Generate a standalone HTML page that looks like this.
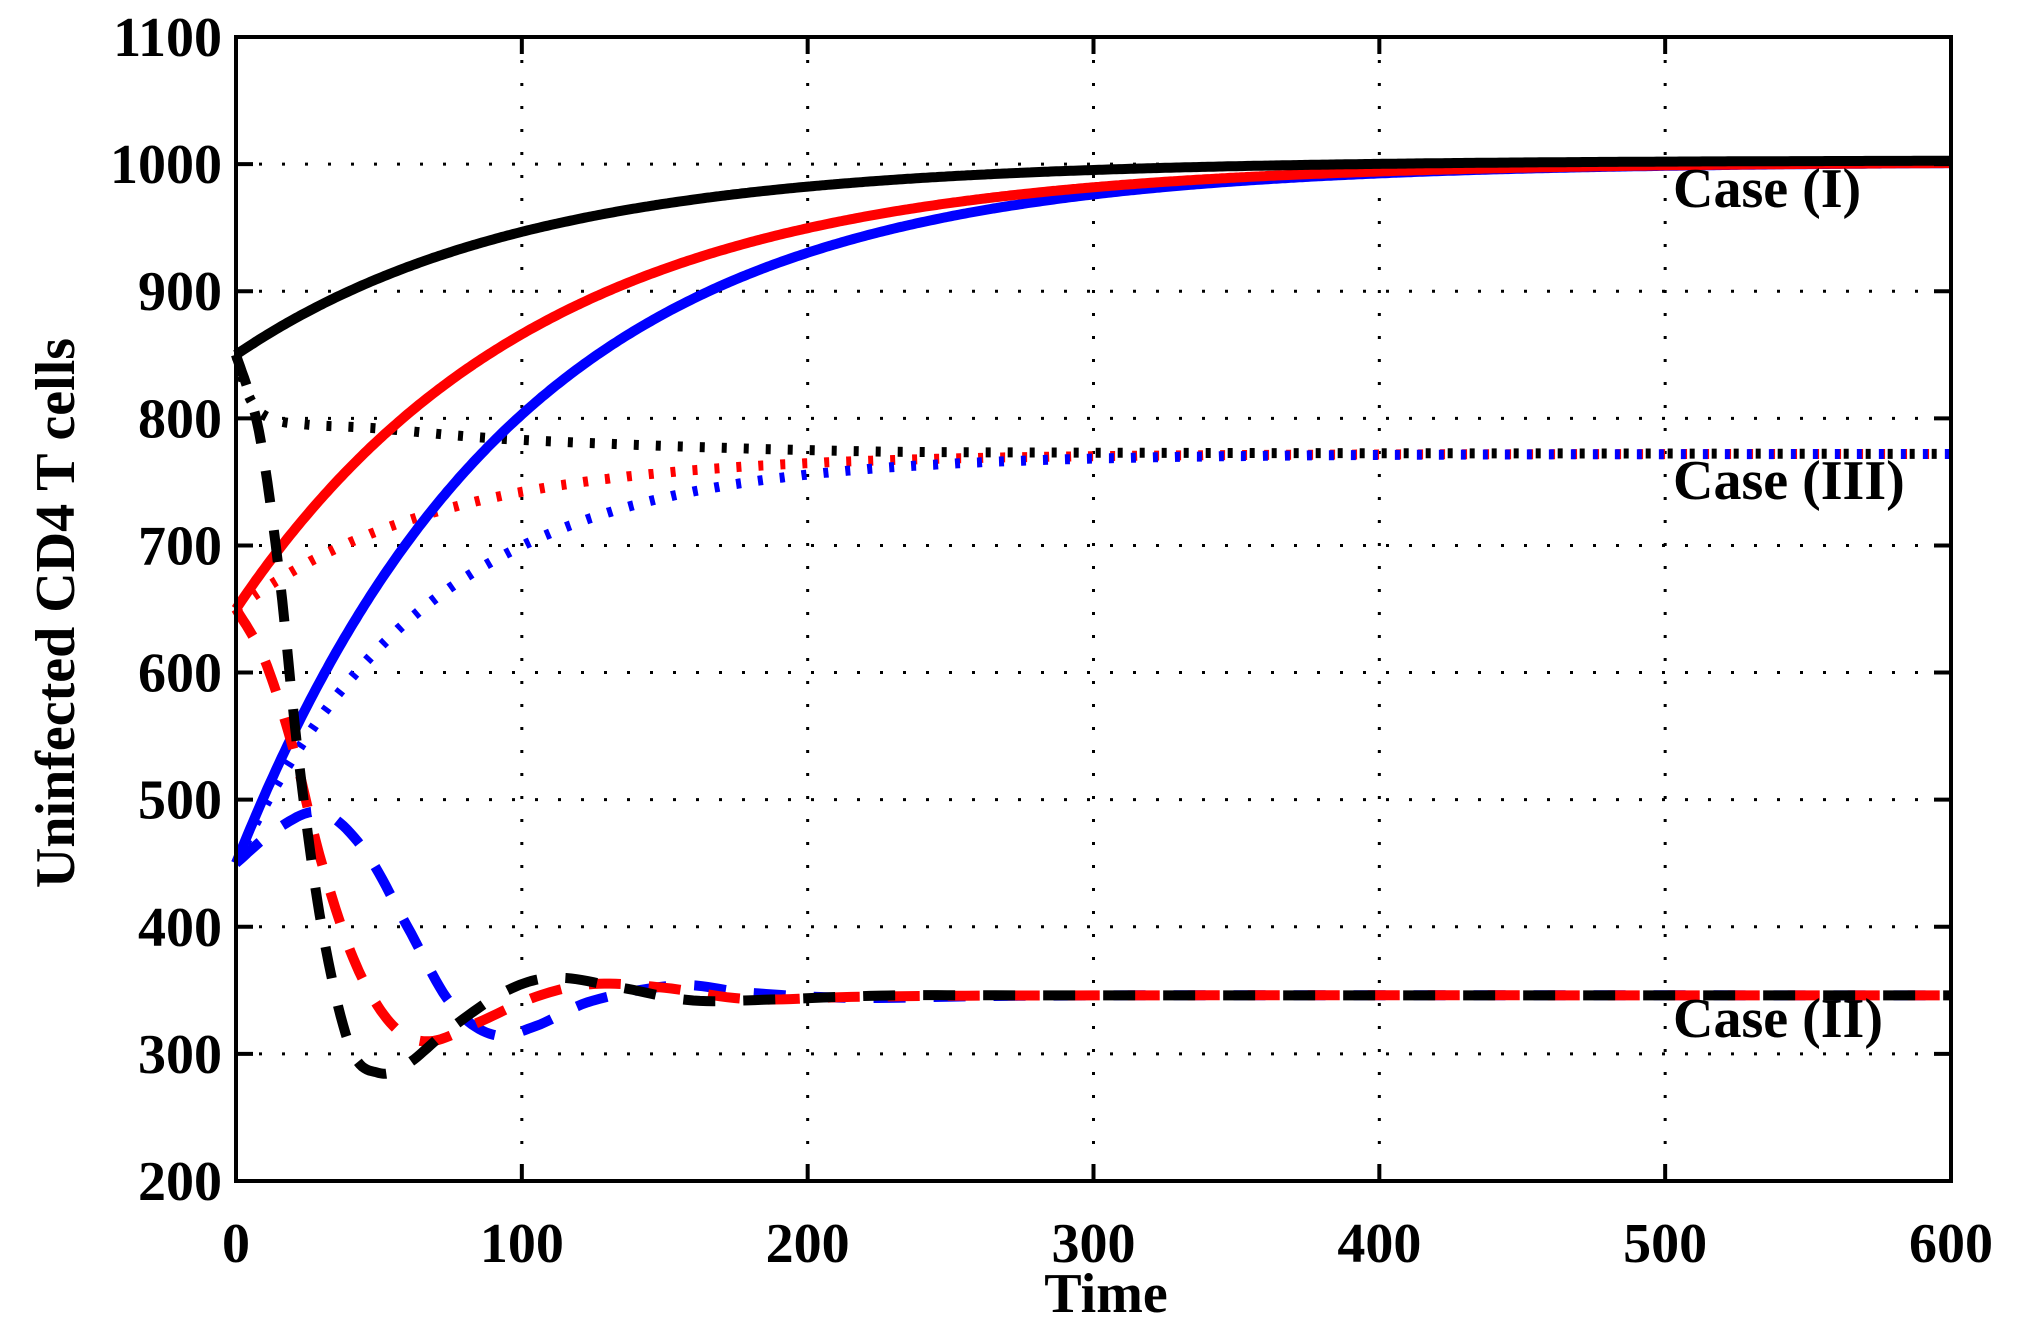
<!DOCTYPE html>
<html><head><meta charset="utf-8"><style>
body{margin:0;background:#fff}
svg text{font-family:"Liberation Serif",serif;font-weight:bold;fill:#000}
</style></head><body>
<svg id="s" width="2024" height="1331" xmlns="http://www.w3.org/2000/svg">
<rect width="2024" height="1331" fill="#fff"/>
<g id="grid" stroke="#000" stroke-width="3" stroke-dasharray="3 20"></g>
<g id="curves" fill="none" stroke-width="10"></g>
<rect x="236" y="37" width="1715" height="1144" fill="none" stroke="#000" stroke-width="4"/>
<g id="ticks" stroke="#000" stroke-width="4"></g>
<g id="lab" font-size="56"></g>
<text x="1673" y="207" font-size="56">Case (I)</text>
<text x="1673" y="499" font-size="56">Case (III)</text>
<text x="1673" y="1037" font-size="56">Case (II)</text>
<text x="1106" y="1312" font-size="56" text-anchor="middle">Time</text>
<text transform="translate(74,613) rotate(-90)" font-size="56" text-anchor="middle">Uninfected CD4 T cells</text>
</svg>
<script>
const X=t=>236+t*1715/600, Y=v=>1181-(v-200)*1144/900;
const ns="http://www.w3.org/2000/svg";
function el(p,tag,a,txt){const e=document.createElementNS(ns,tag);for(const k in a)e.setAttribute(k,a[k]);if(txt!==undefined)e.textContent=txt;document.getElementById(p).appendChild(e);}
for(let t=100;t<600;t+=100)el('grid','line',{x1:X(t),x2:X(t),y1:37,y2:1181});
for(let v=300;v<1100;v+=100)el('grid','line',{x1:236,x2:1951,y1:Y(v),y2:Y(v)});
for(let t=0;t<=600;t+=100){el('ticks','line',{x1:X(t),x2:X(t),y1:1181,y2:1164});el('ticks','line',{x1:X(t),x2:X(t),y1:37,y2:54});
 el('lab','text',{x:X(t),y:1262,'text-anchor':'middle'},t);}
for(let v=200;v<=1100;v+=100){el('ticks','line',{x1:236,x2:253,y1:Y(v),y2:Y(v)});el('ticks','line',{x1:1951,x2:1934,y1:Y(v),y2:Y(v)});
 el('lab','text',{x:222,y:Y(v)+19,'text-anchor':'end'},v);}
function pathF(f){let d='';for(let t=0;t<=600;t+=1){d+=(t?'L':'M')+X(t).toFixed(1)+','+Y(f(t)).toFixed(1);}return d;}
function cr(pts){
 let d='M'+X(pts[0][0])+','+Y(pts[0][1]);
 for(let i=0;i<pts.length-1;i++){const p0=pts[Math.max(0,i-1)],p1=pts[i],p2=pts[i+1],p3=pts[Math.min(pts.length-1,i+2)];
  for(let s=1;s<=12;s++){const u=s/12,u2=u*u,u3=u2*u;
   const f=k=>0.5*((2*p1[k])+(-p0[k]+p2[k])*u+(2*p0[k]-5*p1[k]+4*p2[k]-p3[k])*u2+(-p0[k]+3*p1[k]-3*p2[k]+p3[k])*u3);
   d+='L'+X(f(0)).toFixed(1)+','+Y(f(1)).toFixed(1);}}
 return d;}
el('curves','path',{d:cr([[0,850],[5,815],[12,800],[25,795],[50,792],[100,783],[200,775],[300,773],[600,772]]),stroke:'#000','stroke-dasharray':'5 17'});
el('curves','path',{d:pathF(t=>772-122*Math.exp(-t/71)),stroke:'#f00','stroke-dasharray':'5 17'});
el('curves','path',{d:pathF(t=>772-322*Math.exp(-t/67)),stroke:'#00f','stroke-dasharray':'5 17'});
el('curves','path',{d:pathF(t=>1002-552*Math.exp(-t/98)),stroke:'#00f'});
el('curves','path',{d:pathF(t=>1002-352*Math.exp(-t/105)),stroke:'#f00'});
el('curves','path',{d:pathF(t=>1003-153*Math.exp(-t/100)),stroke:'#000'});
const dash={'stroke-dasharray':'32 28'};
el('curves','path',Object.assign({d:cr([[0,450],[15,478],[30,490],[45,460],[60,400],[75,340],[90,315],[105,322],[125,342],[155,354],[180,348],[220,344],[300,346],[600,346]]),stroke:'#00f'},dash));
el('curves','path',Object.assign({d:cr([[0,650],[10,610],[20,540],[30,450],[42,370],[55,322],[68,310],[85,325],[105,345],[125,355],[150,352],[180,343],[220,345],[300,346],[600,346]]),stroke:'#f00'},dash));
el('curves','path',Object.assign({d:cr([[0,850],[8,790],[15,680],[22,530],[30,400],[40,305],[50,285],[60,292],[75,320],[95,350],[112,360],[135,352],[160,342],[190,343],[230,346],[300,346],[600,346]]),stroke:'#000'},dash));
</script>
</body></html>
